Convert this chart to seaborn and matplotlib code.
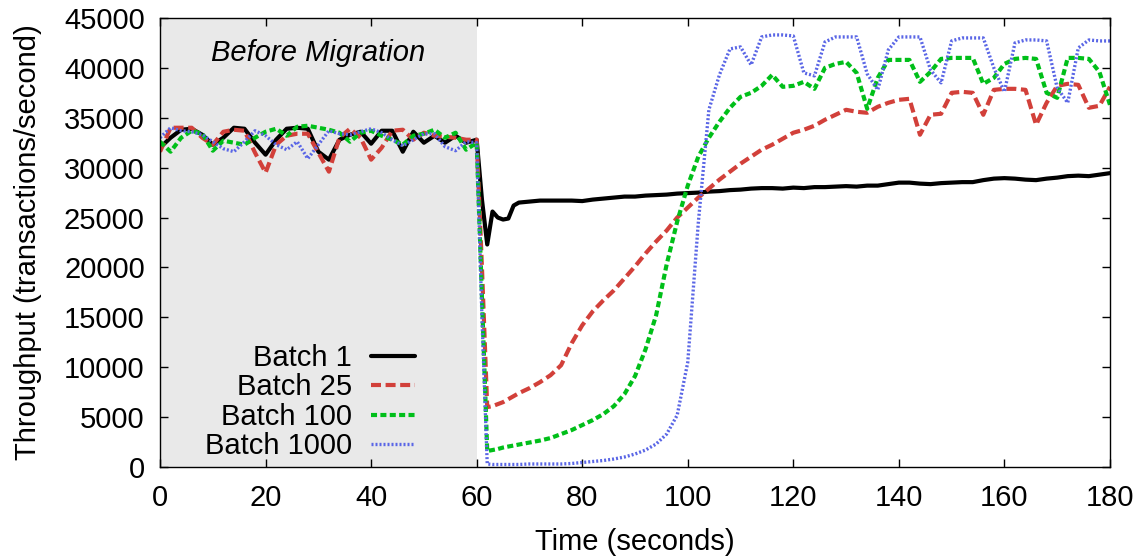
import numpy as np
import matplotlib
matplotlib.use('Agg')
import matplotlib.pyplot as plt
import seaborn as sns
import pandas as pd

# sample times (seconds); finer around the migration at t=60
seconds = list(range(0, 60, 2)) + list(range(60, 69)) + list(range(70, 181, 2))

batch1 = [32000, 33000, 33800, 33900, 33300, 32300, 33000, 34000, 33900, 32500,
          31300, 32800, 33900, 34000, 33900, 31600, 30800, 32800, 33300, 33600,
          32400, 33700, 33700, 31600, 33600, 32500, 33200, 32500, 33200, 32500,
          32800, 26800, 22300, 25600, 25000, 24800, 24900, 26200, 26500,
          26600, 26700, 26700, 26700, 26700, 26650, 26800, 26900, 27000, 27100,
          27100, 27200, 27250, 27300, 27400, 27450, 27500, 27600, 27650, 27750,
          27800, 27900, 27950, 27950, 27900, 28000, 27950, 28050, 28050, 28100,
          28150, 28100, 28200, 28200, 28350, 28500, 28500, 28400, 28350, 28450,
          28500, 28550, 28550, 28750, 28900, 28950, 28900, 28800, 28750, 28900,
          29000, 29150, 29200, 29150, 29300, 29450]

batch25 = [31600, 34000, 34000, 34000, 33000, 32300, 33600, 33800, 33700, 31500,
           29500, 32300, 33200, 33400, 33400, 31500, 29600, 33000, 33900, 33000,
           30800, 32000, 33700, 33800, 32800, 33500, 33200, 33100, 33000, 32800,
           32800, 20000, 6000, 6100, 6300, 6500, 6800, 7100, 7400,
           7900, 8500, 9200, 10200, 12400, 14200, 15600, 16700, 17700, 18900,
           20100, 21400, 22600, 23700, 25000, 26000, 27000, 27900, 28800, 29600,
           30400, 31100, 31800, 32300, 32900, 33500, 33800, 34200, 34800, 35300,
           35800, 35600, 35500, 36100, 36500, 36800, 36900, 33300, 35300, 35400,
           37500, 37600, 37500, 35300, 37800, 37900, 37900, 37800, 34300, 36500,
           38200, 38400, 38300, 36000, 36200, 38100]

batch100 = [32600, 31600, 33000, 33700, 33400, 31700, 32700, 32500, 32300, 33000,
            33600, 33900, 33200, 34100, 34200, 34000, 33800, 33500, 32600, 33500,
            33700, 33200, 32800, 32300, 33200, 33400, 33800, 33000, 33500, 31800,
            32500, 17000, 1600, 1700, 1800, 1950, 2050, 2150, 2250,
            2450, 2650, 2900, 3300, 3700, 4200, 4700, 5300, 6100, 7300,
            9100, 11800, 15200, 20300, 24600, 28200, 31100, 33000, 34600, 36000,
            37100, 37500, 38200, 39300, 38100, 38200, 38600, 37900, 40000, 40400,
            40600, 39500, 35900, 39000, 40800, 40800, 40800, 38600, 39600, 40900,
            41000, 41000, 41000, 38400, 39000, 40400, 40900, 41000, 40900, 37500,
            37000, 41000, 41000, 40900, 39600, 36300]

batch1000 = [33000, 34000, 33700, 33600, 33300, 32600, 31900, 31600, 32600, 33700,
             33200, 32300, 31800, 32600, 30900, 32300, 33700, 33400, 33300, 33600,
             33900, 33500, 32800, 32200, 32800, 33400, 33400, 32100, 31700, 32600,
             32500, 15000, 300, 250, 250, 250, 250, 250, 250,
             300, 300, 300, 300, 350, 450, 550, 650, 800, 1000,
             1300, 1700, 2300, 3300, 5200, 10500, 24500, 35800, 39300, 41900,
             42100, 40300, 43100, 43300, 43300, 43200, 39500, 39200, 42600, 43100,
             43100, 43100, 39400, 37800, 41800, 43100, 43100, 43100, 39800, 38500,
             42700, 43000, 43000, 43000, 40000, 37600, 42500, 42800, 42800, 42700,
             38000, 36500, 42000, 42800, 42700, 42700]

labels = ['Batch 1', 'Batch 25', 'Batch 100', 'Batch 1000']
series = [batch1, batch25, batch100, batch1000]

df = pd.DataFrame({'Time': seconds * 4,
                   'Throughput': sum(series, []),
                   'Batch': sum([[l] * len(seconds) for l in labels], [])})

sns.set_style('ticks')
plt.rcParams['font.family'] = ['Liberation Sans', 'DejaVu Sans']
plt.rcParams['text.color'] = 'black'
plt.rcParams['axes.labelcolor'] = 'black'

colors = ['black', '#d2403a', '#00bf19', '#5a66e6']
widths = [3.0, 3.0, 3.0, 2.4]
dashes = [None, (2.4, 1.1), (1.45, 0.8), (0.6, 0.6)]
FS = 21

fig, ax = plt.subplots(figsize=(11.39, 5.57), dpi=100)
fig.subplots_adjust(left=0.1405, right=0.9745, bottom=0.1616, top=0.9677)

ax.axvspan(0, 60, color='#e9e9e9', zorder=0, lw=0)

for lab, col, w, d in zip(labels, colors, widths, dashes):
    sub = df[df['Batch'] == lab]
    sns.lineplot(data=sub, x='Time', y='Throughput', ax=ax, color=col,
                 linewidth=w, label=lab, estimator=None)
    if d is not None:
        ax.get_lines()[-1].set_dashes(d)

ax.set_xlim(0, 180)
ax.set_ylim(0, 45000)
ax.set_xticks(range(0, 181, 20))
ax.set_yticks(range(0, 45001, 5000))
ax.tick_params(direction='in', top=True, right=True, length=6, width=1,
               labelsize=FS, colors='black')
ax.tick_params(axis='x', pad=12)
ax.tick_params(axis='y', pad=11)
for s in ax.spines.values():
    s.set_linewidth(1)
    s.set_color('black')

ax.set_xlabel('Time (seconds)', fontsize=FS, labelpad=12)
ax.set_ylabel('Throughput (transactions/second)', fontsize=FS, labelpad=16)

ax.text(30, 41500, 'Before Migration', fontsize=FS, style='italic',
        ha='center', va='center')

handles, labs = ax.get_legend_handles_labels()
for h, d in zip(handles, dashes):
    if d is not None:
        h.set_dashes(d)
leg = ax.legend(handles, labs, loc='lower right', bbox_to_anchor=(0.268, 0.015),
                frameon=False, markerfirst=False, fontsize=FS, handlelength=1.5,
                handletextpad=0.65, labelspacing=0.05, borderpad=0, borderaxespad=0)

plt.savefig('out.png', dpi=100)
